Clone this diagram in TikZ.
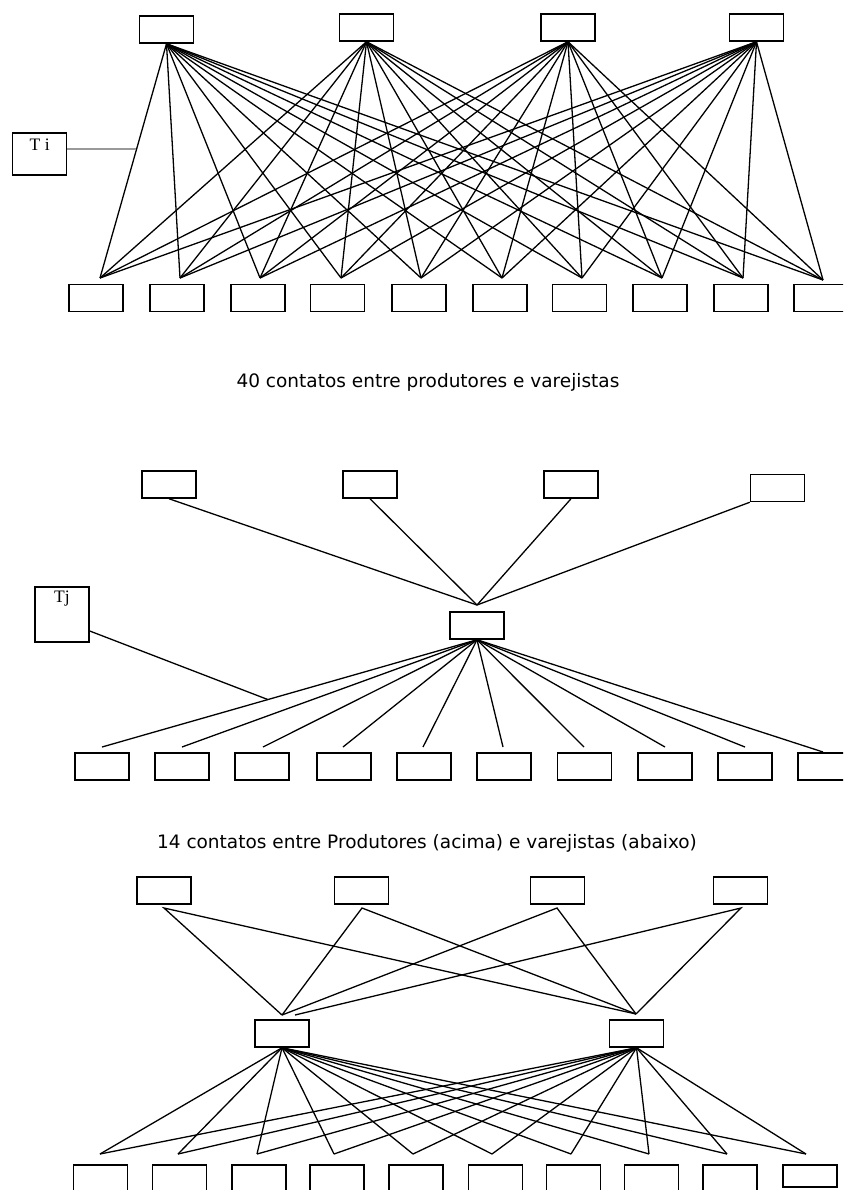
\documentclass[tikz,border=0pt]{standalone}
\usepackage{fontspec}
\setmainfont{Liberation Serif}
\newfontfamily\capfont{DejaVu Sans}
\tikzset{
  box/.style={draw, line width=1.5pt, minimum width=54pt, minimum height=27pt, inner sep=0pt},
  link/.style={line width=1.3pt},
  caption/.style={font=\capfont\fontsize{18.5}{20}\selectfont, inner sep=0pt},
  tag/.style={font=\fontsize{17.5}{19}\selectfont, inner sep=0pt, anchor=north},
}
\begin{document}
\begin{tikzpicture}[x=1pt, y=-1pt]
\useasboundingbox (0,0) rectangle (843,1190);
\clip (0,0) rectangle (843,1190);

% ---------- direct links: 4 producers x 10 retailers ----------
\foreach \i/\x/\y in {1/166.5/29.5, 2/366.5/27.5, 3/568/27.5, 4/756.5/27.5}
  \node[box] (s1t\i) at (\x,\y) {};
\foreach \i/\x in {1/96, 2/177, 3/258, 4/337.5, 5/419, 6/500, 7/579.5, 8/660, 9/741, 10/821}
  \node[box] (s1b\i) at (\x,298) {};
\foreach \i/\x in {1/100, 2/180, 3/260, 4/341, 5/421, 6/502, 7/582, 8/662, 9/743}
  \coordinate (s1p\i) at (\x,278);
\coordinate (s1p10) at (823,280);
\foreach \t in {1,...,4}
  \foreach \b in {1,...,10}
    \draw[link] (s1t\t.south) -- (s1p\b);

\node[box, minimum height=42pt] (ti) at (39.7,154) {};
\node[tag] (tilabel) at ([yshift=-6pt]ti.north) {T i};
\coordinate (tijoin) at (136.3,149);
\draw[black!40, line width=2pt] (ti.east |- tijoin) -- (tijoin);

\node[caption] (cap1) at (428,382) {40 contatos entre produtores e varejistas};

% ---------- one intermediary ----------
\foreach \i/\x/\y in {1/169/484.5, 2/370/484.5, 3/571/484.5, 4/777.5/488}
  \node[box] (s2t\i) at (\x,\y) {};
\node[box] (s2h) at (477,625.5) {};
\coordinate (s2in) at (477,605);
\foreach \t in {1,2,3}
  \draw[link] (s2t\t.south) -- (s2in);
\draw[link] (s2t4.south west) -- (s2in);

\foreach \i/\x in {1/102, 2/182, 3/262, 4/344, 5/424, 6/504, 7/584.5, 8/665, 9/745, 10/825}
  \node[box] (s2b\i) at (\x,766.5) {};
\foreach \i/\x in {1/102, 2/182, 3/263, 4/343, 5/423, 6/503, 7/584, 8/665, 9/745}
  \coordinate (s2p\i) at (\x,747);
\coordinate (s2p10) at (823,752);
\foreach \b in {1,...,10}
  \draw[link] (s2h.south) -- (s2p\b);

\node[box, minimum height=55pt] (tj) at (62,614.5) {};
\node[tag] (tjlabel) at ([yshift=-4pt]tj.north) {Tj};
\coordinate (tjjoin) at (268,699.6);
\draw[link] ([yshift=-16.5pt]tj.east) -- (tjjoin);

\node[caption] (cap2) at (427,843) {14 contatos entre Produtores (acima) e varejistas (abaixo)};

% ---------- two intermediaries ----------
\foreach \i/\x in {1/164, 2/361.5, 3/557.5, 4/740.5}
  \node[box] (s3t\i) at (\x,890.5) {};
\foreach \i/\x in {1/164, 2/362, 3/557, 4/741}
  \coordinate (s3o\i) at (\x,908);
\node[box] (s3h1) at (282,1033.5) {};
\node[box] (s3h2) at (636.5,1033.5) {};
\coordinate (s3i1) at (282,1015);
\coordinate (s3i1b) at (295,1015);
\coordinate (s3i2) at (636,1014);
\foreach \t in {1,2,3}
  \draw[link] (s3i1) -- (s3o\t) -- (s3i2);
\draw[link] (s3i1b) -- (s3o4) -- (s3i2);

\foreach \i/\x in {1/100.5, 2/179.5, 3/259, 4/337, 5/416, 6/495.5, 7/573.5, 8/651.5, 9/730}
  \node[box] (s3b\i) at (\x,1178.5) {};
\node[box, minimum height=22pt] (s3b10) at (810,1176) {};
\foreach \i/\x in {1/100, 2/178, 3/257, 4/334, 5/413, 6/492, 7/571, 8/649, 9/727, 10/806}
  \coordinate (s3p\i) at (\x,1154);
\foreach \h in {1,2}
  \foreach \b in {1,...,10}
    \draw[link] (s3h\h.south) -- (s3p\b);
\end{tikzpicture}
\end{document}
